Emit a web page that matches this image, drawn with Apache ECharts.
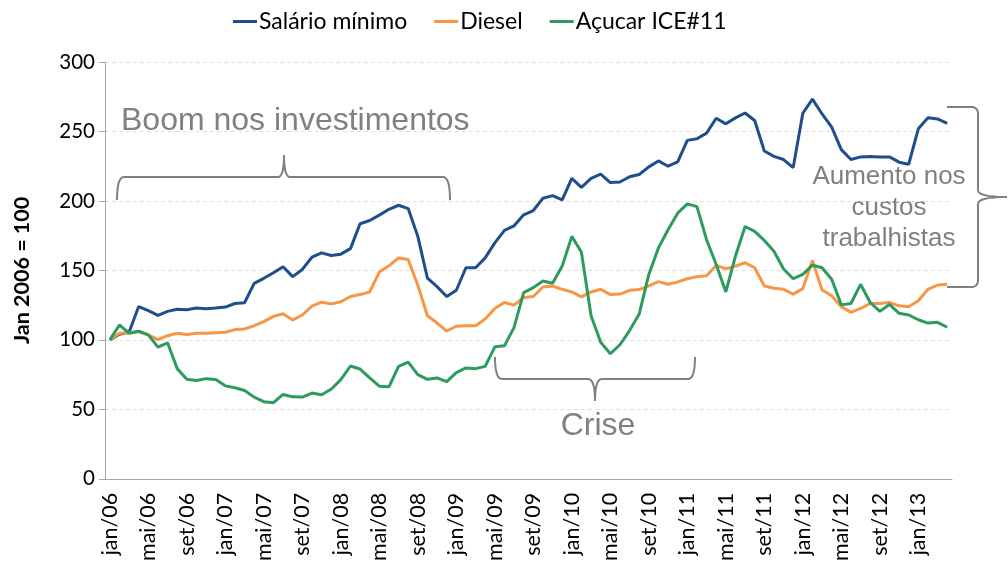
<!DOCTYPE html>
<html><head><meta charset="utf-8">
<script src="https://cdn.jsdelivr.net/npm/echarts@6/dist/echarts.min.js"></script>
<style>html,body{margin:0;padding:0;background:#fff}#c{width:1008px;height:564px}</style>
</head><body><div id="c"></div>
<script>
const monthNames = ['jan','fev','mar','abr','mai','jun','jul','ago','set','out','nov','dez'];
const years = ['06','07','08','09','10','11','12','13'];
const nMonths = 88;
const categories = [];
for (let i = 0; i < nMonths; i++) categories.push(monthNames[i % 12] + '/' + years[Math.floor(i / 12)]);

const salarioMinimo = [100,104,105.5,124,121,117.6,120.5,122,121.7,122.9,122.4,122.9,123.6,126.2,126.7,140.7,144.3,148.3,
152.6,145.5,150.7,159.5,162.6,160.7,161.7,165.7,183.6,185.9,189.8,194,196.9,194.5,174.5,144.5,138.3,131.2,
135.7,151.9,151.9,159,169.8,178.8,182.1,190,193.1,201.9,203.8,200.7,216.2,209.8,216.2,219.3,213.2,
213.6,217.4,219,224.5,228.8,225,228.1,243.6,244.8,248.8,259.5,255.5,259.8,263.3,257.9,235.9,232.1,229.8,
224,263.1,273.3,262.6,253.1,236.9,229.8,231.7,231.9,231.7,231.7,227.9,226.4,251.9,259.8,259,255.9];

const diesel = [100,104.8,105,106,103.6,100.2,103,104.8,103.8,104.8,104.8,105.2,105.5,107.4,107.9,110.2,113.1,116.9,
118.8,114.3,117.9,124.3,127.1,125.9,127.4,131.2,132.6,134.5,148.8,153.3,159,157.9,139.3,117.4,112.1,106.4,
109.8,110.2,110.2,115,122.6,126.9,125,130.5,131.2,138.1,138.8,136.4,134.5,130.9,134.5,136.4,132.6,
133,135.7,136.2,138.8,141.9,140,141.7,144,145.5,146.2,153.6,151.2,153.1,155.5,151.9,138.8,137.1,136.4,
132.9,136.9,157.1,135.9,131.7,123.8,119.8,122.6,126.2,126.2,126.9,124.5,123.8,128.1,136.4,139.5,140];

const acucar = [100,110.7,104.8,106.2,103.6,94.8,97.9,79.3,71.7,70.7,72.1,71.4,66.9,65.5,63.6,58.8,55.5,54.8,
60.7,59,58.8,61.7,60.5,64.5,71.4,81.2,79,72.6,66.7,66.2,80.9,84,75,71.6,72.6,70,
76.4,79.8,79.3,80.9,95,95.7,109,134,137.6,142.4,140.7,153.1,174.5,163.1,117.4,98.3,90,
96.5,106.7,118.6,147.1,166.2,179.3,191.2,197.9,195.9,172.1,154.3,134.5,160.2,181.6,178.1,171.6,163.8,151,
144,147.1,153.8,151.9,143.6,125.2,126.2,140,126.9,120.5,125.5,119.1,117.9,114.5,112.1,112.6,109.1];

const seriesNames = ['Salário mínimo','Diesel','Açucar ICE#11'];
const colors = ['#1f4e8c','#f79646','#2e9a5e'];
const yTicks = {min:0, max:300, interval:50};

const FONT = 'Lato';
const gray = '#808080';

// build a polyline from segments: ['M',x,y], ['L',x,y], ['Q',cx,cy,x,y]
function bracePoints(cmds){
  const pts = [];
  let cur = null;
  cmds.forEach(c => {
    if (c[0] === 'M' || c[0] === 'L') { cur = [c[1], c[2]]; pts.push(cur); }
    else if (c[0] === 'Q') {
      const [x0, y0] = cur;
      for (let k = 1; k <= 10; k++) {
        const t = k / 10, u = 1 - t;
        pts.push([u*u*x0 + 2*u*t*c[1] + t*t*c[3], u*u*y0 + 2*u*t*c[2] + t*t*c[4]]);
      }
      cur = [c[3], c[4]];
    }
  });
  return pts;
}
const braceStyle = {fill:null, stroke:gray, lineWidth:2};

const chart = echarts.init(document.getElementById('c'));
chart.setOption({
  animation:false,
  color: colors,
  grid:{left:105, right:56, top:62, bottom:82, containLabel:false},
  legend:{
    left:228, top:5, itemGap:27, itemWidth:24, itemHeight:3, icon:'rect',
    textStyle:{fontFamily:FONT, fontSize:23, color:'#000', padding:[0,0,0,-3]},
    data: seriesNames
  },
  xAxis:{
    type:'category', data:categories, boundaryGap:true,
    axisLine:{lineStyle:{color:'#a6a6a6', width:1}},
    axisTick:{interval:3, length:6, lineStyle:{color:'#a6a6a6'}},
    axisLabel:{interval:3, rotate:90, fontFamily:FONT, fontSize:21.5, color:'#000', margin:14}
  },
  yAxis:{
    type:'value', min:yTicks.min, max:yTicks.max, interval:yTicks.interval,
    name:'Jan 2006 = 100', nameLocation:'middle', nameGap:72, nameRotate:90,
    nameTextStyle:{fontFamily:FONT, fontSize:21.5, fontWeight:'bold', color:'#000'},
    axisLine:{show:true, lineStyle:{color:'#a6a6a6'}},
    axisTick:{show:true, length:6, lineStyle:{color:'#a6a6a6'}},
    axisLabel:{fontFamily:FONT, fontSize:20.5, color:'#000', margin:10},
    splitLine:{lineStyle:{color:'#e0e0e0', type:[4,3]}}
  },
  series:[
    {name:seriesNames[0], type:'line', data:salarioMinimo, showSymbol:false, lineStyle:{width:3}},
    {name:seriesNames[1], type:'line', data:diesel, showSymbol:false, lineStyle:{width:3}},
    {name:seriesNames[2], type:'line', data:acucar, showSymbol:false, lineStyle:{width:3}}
  ],
  graphic:[
    {type:'text', x:121, y:121, style:{text:'Boom nos investimentos', fontFamily:'Liberation Sans', fontSize:32, fill:gray, verticalAlign:'middle'}},
    {type:'polyline', shape:{points:bracePoints([['M',117,200],['Q',117,177,124,177],['L',278,177],['Q',284,177,284,155],['Q',284,177,290,177],['L',443,177],['Q',450,177,450,200]])}, style:braceStyle},
    {type:'polyline', shape:{points:bracePoints([['M',495,357],['Q',495,379,502,379],['L',588,379],['Q',595,379,595,401],['Q',595,379,602,379],['L',688,379],['Q',695,379,695,357]])}, style:braceStyle},
    {type:'text', x:598, y:426, style:{text:'Crise', fontFamily:'Liberation Sans', fontSize:32, fill:gray, align:'center', verticalAlign:'middle'}},
    {type:'polyline', shape:{points:bracePoints([['M',947,107],['L',971,107],['Q',978,107,978,114],['L',978,190],['Q',978,197,1007,197],['Q',978,197,978,204],['L',978,280],['Q',978,287,971,287],['L',947,287]])}, style:braceStyle},
    {type:'text', x:889, y:208, style:{text:'Aumento nos\ncustos\ntrabalhistas', fontFamily:'Liberation Sans', fontSize:26, lineHeight:31, fill:gray, align:'center', verticalAlign:'middle'}}
  ]
});
</script></body></html>
